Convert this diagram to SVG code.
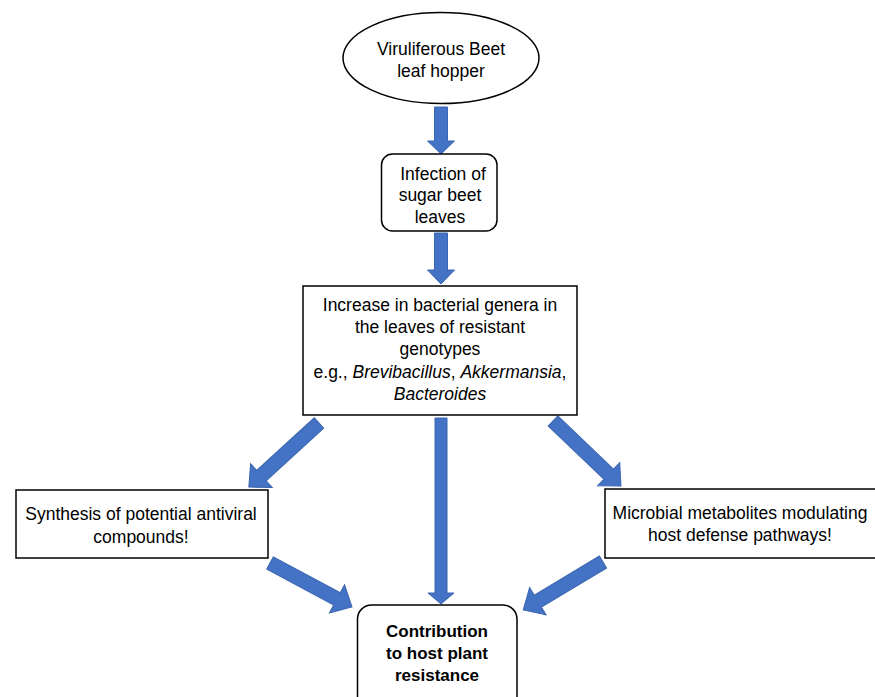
<svg xmlns="http://www.w3.org/2000/svg" width="875" height="697" viewBox="0 0 875 697">
<style>
.node{fill:#fff;stroke:#000;stroke-width:1.5}
.t{font-family:"Liberation Sans",Arial,sans-serif;font-size:17.5px;fill:#000;text-anchor:middle}
.b{font-weight:bold;font-size:17px}
.arr{fill:#4472C4;stroke:#3A65B0;stroke-width:1}
</style>
<rect width="875" height="697" fill="#fff"/>
<g id="connectors">
<path class="arr" transform="translate(441,107) rotate(90)" d="M0,-6.5 L34,-6.5 L34,-13.5 L47,0 L34,13.5 L34,6.5 L0,6.5Z"/>
<path class="arr" transform="translate(441,233) rotate(90)" d="M0,-6.5 L37,-6.5 L37,-13.5 L51,0 L37,13.5 L37,6.5 L0,6.5Z"/>
<path class="arr" transform="translate(441,418) rotate(90)" d="M0,-6 L175,-6 L175,-13 L186,0 L175,13 L175,6 L0,6Z"/>
<path class="arr" transform="translate(319,423) rotate(137.6)" d="M0,-7 L78,-7 L78,-16 L95,0 L78,16 L78,7 L0,7Z"/>
<path class="arr" transform="translate(553,421) rotate(43.7)" d="M0,-7 L77,-7 L77,-16 L94,0 L77,16 L77,7 L0,7Z"/>
<path class="arr" transform="translate(270,563) rotate(28.2)" d="M0,-7 L76,-7 L76,-16 L93,0 L76,16 L76,7 L0,7Z"/>
<path class="arr" transform="translate(603,562) rotate(149)" d="M0,-7 L76,-7 L76,-16 L93,0 L76,16 L76,7 L0,7Z"/>
</g>
<g id="hopper">
<ellipse class="node" cx="441" cy="58" rx="98" ry="45.5"/>
<text class="t" x="441" y="55">Viruliferous Beet</text>
<text class="t" x="441" y="77">leaf hopper</text>
</g>
<g id="infection">
<rect class="node" x="381.5" y="154" width="115.5" height="77" rx="11"/>
<text class="t" x="443" y="180">Infection of</text>
<text class="t" x="440" y="201">sugar beet</text>
<text class="t" x="440" y="223">leaves</text>
</g>
<g id="increase">
<rect class="node" x="303" y="286" width="274" height="129"/>
<text class="t" x="440" y="311">Increase in bacterial genera in</text>
<text class="t" x="440" y="333">the leaves of resistant</text>
<text class="t" x="440" y="355">genotypes</text>
<text class="t" x="440" y="378">e.g., <tspan font-style="italic">Brevibacillus</tspan>, <tspan font-style="italic">Akkermansia</tspan>,</text>
<text class="t" x="440" y="400" font-style="italic">Bacteroides</text>
</g>
<g id="synthesis">
<rect class="node" x="16" y="490" width="252" height="68"/>
<text class="t" x="141" y="520">Synthesis of potential antiviral</text>
<text class="t" x="141" y="543">compounds!</text>
</g>
<g id="microbial">
<rect class="node" x="605" y="489" width="272" height="69"/>
<text class="t" x="740" y="519">Microbial metabolites modulating</text>
<text class="t" x="740" y="541">host defense pathways!</text>
</g>
<g id="contribution">
<rect class="node" x="357.5" y="605" width="159.5" height="110" rx="14"/>
<text class="t b" x="437" y="637">Contribution</text>
<text class="t b" x="437" y="659">to host plant</text>
<text class="t b" x="437" y="681">resistance</text>
</g>
</svg>
